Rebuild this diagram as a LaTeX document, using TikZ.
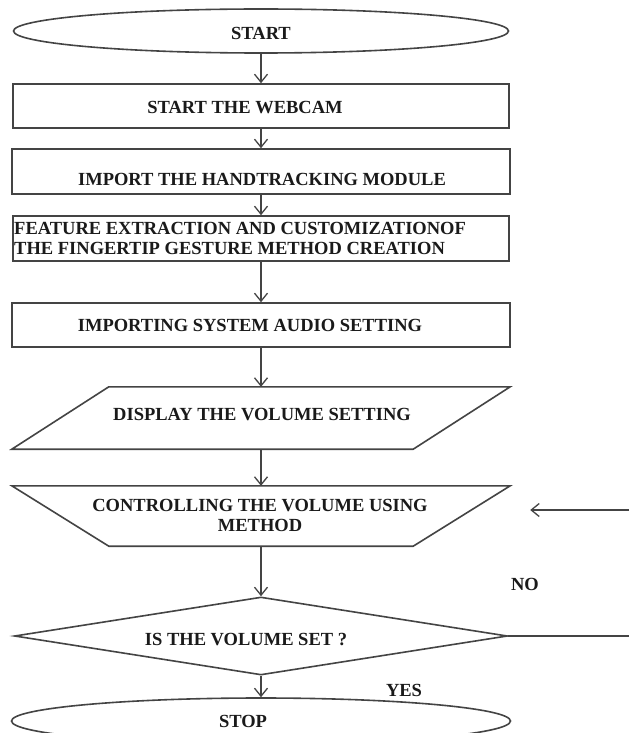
\documentclass[tikz,border=0pt]{standalone}
\usepackage{fontspec}
\setmainfont{Liberation Serif}
\usetikzlibrary{shapes.geometric,arrows.meta}
\definecolor{linec}{HTML}{444444}
\definecolor{textc}{HTML}{1A1A1A}
\tikzset{
  shp/.style={draw=linec, line width=1.6pt, inner sep=0pt},
  oval/.style={shp, ellipse},
  boxnode/.style={shp, rectangle},
  hidden/.style={rectangle, inner sep=0pt},
  decnode/.style={shp, diamond},
  txt/.style={inner sep=0pt, text=textc, font=\bfseries\fontsize{18.5}{20}\selectfont},
  arr/.style={draw=linec, line width=1.4pt, -{Straight Barb[length=8pt,width=13pt,line width=1.3pt]}},
  plain/.style={draw=linec, line width=1.4pt},
}
\begin{document}
\begin{tikzpicture}[x=1pt,y=-1pt]
\useasboundingbox (0,0) rectangle (629,733);
\clip (0,0) rectangle (629,733);
\fill[white] (0,0) rectangle (629,733);

% shapes
\node[oval, minimum width=495pt, minimum height=44pt] (start) at (261,31) {};
\node[boxnode, minimum width=496pt, minimum height=44pt] (b1) at (261,106) {};
\node[boxnode, minimum width=498pt, minimum height=45pt] (b2) at (261,171.5) {};
\node[boxnode, minimum width=496pt, minimum height=45pt] (b3) at (261,238.5) {};
\node[boxnode, minimum width=498pt, minimum height=44pt] (b4) at (261,325) {};
\node[hidden, minimum width=498pt, minimum height=62pt] (disp) at (261,418) {};
\draw[shp] ([xshift=97pt]disp.north west) -- (disp.north east) -- ([xshift=-97pt]disp.south east) -- (disp.south west) -- cycle;
\node[hidden, minimum width=498pt, minimum height=60pt] (ctrl) at (261,516) {};
\draw[shp] (ctrl.north west) -- (ctrl.north east) -- ([xshift=-97pt]ctrl.south east) -- ([xshift=97pt]ctrl.south west) -- cycle;
\node[decnode, minimum width=493pt, minimum height=78pt] (dec) at (261,636) {};
\node[oval, minimum width=499pt, minimum height=46pt] (stop) at (261,721) {};

% texts
\node[txt] (tstart) at (261,33) {START};
\node[txt] (t1) at (245,108) {START THE WEBCAM};
\node[txt] (t2) at (262,179) {IMPORT THE HANDTRACKING MODULE};
\node[txt, anchor=west, align=left] (t3) at (14,238) {FEATURE EXTRACTION AND CUSTOMIZATIONOF\\THE FINGERTIP GESTURE METHOD CREATION};
\node[txt] (t4) at (250,325) {IMPORTING SYSTEM AUDIO SETTING};
\node[txt] (tdisp) at (262,415) {DISPLAY THE VOLUME SETTING};
\node[txt, align=center] (tctrl) at (260,515) {CONTROLLING THE VOLUME USING\\METHOD};
\node[txt] (tdec) at (246,640) {IS THE VOLUME SET ?};
\node[txt] (tstop) at (243,721) {STOP};
\node[txt] (tno) at (525,584) {NO};
\node[txt] (tyes) at (404,690) {YES};

% connectors
\draw[arr] (start.south) -- (b1.north);
\draw[arr] (b1.south) -- (b2.north);
\draw[arr] (b2.south) -- (b3.north);
\draw[arr] (b3.south) -- (b4.north);
\draw[arr] (b4.south) -- (disp.north);
\draw[arr] (disp.south) -- (ctrl.north);
\draw[arr] (ctrl.south) -- (dec.north);
\draw[arr] (dec.south) -- (stop.north);
\coordinate (noE) at (629,636);
\coordinate (noR) at (629,510);
\draw[plain] (dec.east) -- (noE);
\draw[arr, shorten >=20pt] (noR) -- (noR -| ctrl.east);
\end{tikzpicture}
\end{document}
